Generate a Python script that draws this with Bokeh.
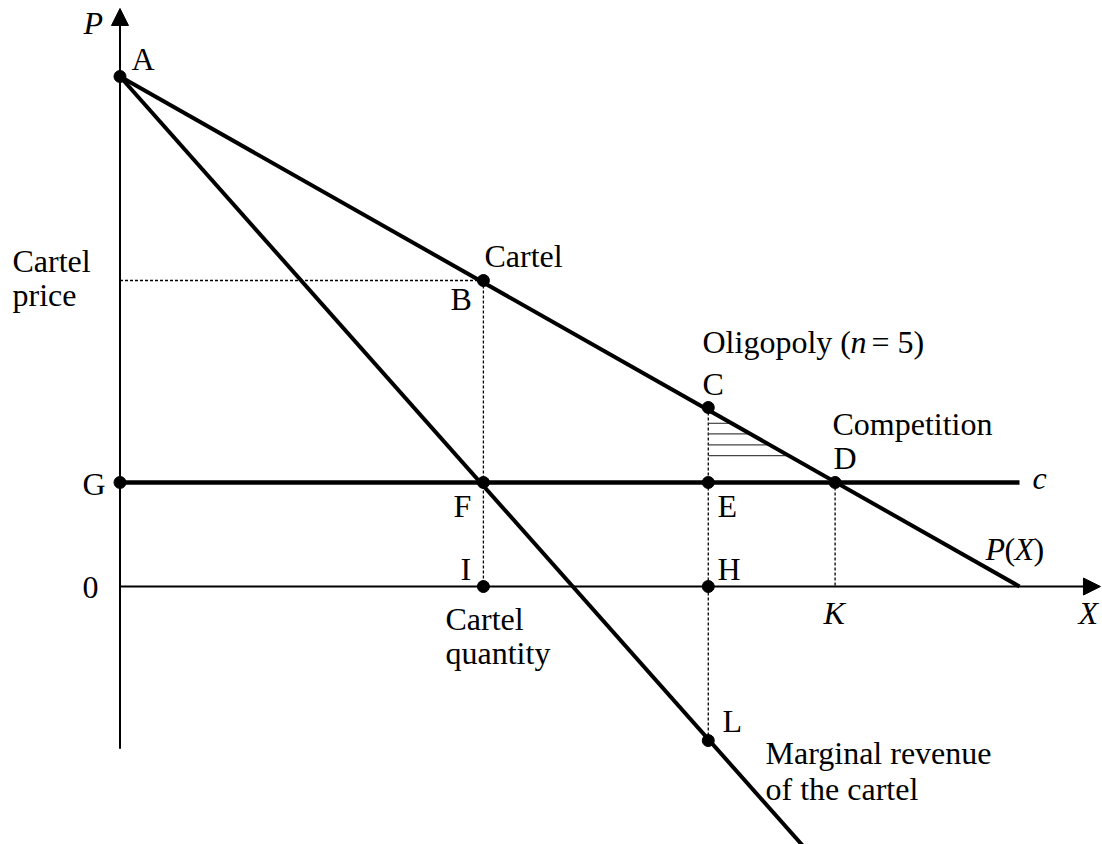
from bokeh.plotting import figure
from bokeh.models import Range1d, Arrow, NormalHead, ColumnDataSource
from bokeh.core.properties import value
from bokeh.embed import file_html
from bokeh.resources import INLINE

# ---------------- data ----------------
# inverse demand P(X)
demand_x = [0.0, 10.0]
demand_p = [5.0, 0.0]
# marginal revenue of the cartel
mr_x = [0.0, 7.6]
mr_p = [5.0, -2.55]
# marginal cost c
cost_x = [0.0, 10.0]
cost_p = [1.02, 1.02]

point_names = ["A", "B", "C", "D", "G", "F", "E", "I", "H", "L"]
point_x = [0.0, 4.04, 6.54, 7.95, 0.0, 4.04, 6.54, 4.04, 6.54, 6.54]
point_p = [5.0, 3.0, 1.755, 1.02, 1.02, 1.02, 1.02, 0.0, 0.0, -1.51]

# dotted guide lines
guide_x0 = [0.0, 4.04, 6.54, 7.95]
guide_p0 = [3.0, 3.0, 1.755, 1.02]
guide_x1 = [4.04, 4.04, 6.54, 7.95]
guide_p1 = [3.0, 0.0, -1.51, 0.0]

# hatching of the oligopoly triangle
hatch_p = [1.60, 1.497, 1.389, 1.284]
hatch_x0 = [6.54, 6.54, 6.54, 6.54]
hatch_x1 = [6.81, 7.01, 7.20, 7.43]

# axes extent
axis_x_max = 10.9
axis_p_min = -1.59
axis_p_max = 5.667

# ---------------- layout ----------------
W, H = 1102, 844
X0, X1 = -1.3285, 10.9227
Y0, Y1 = -2.529, 5.745
SX = W / (X1 - X0)
SY = H / (Y1 - Y0)
BASE_FIX = 10  # renderer places alphabetic baseline lower; compensate


def ref(px, py):
    """screen pixel -> data coordinate"""
    return X0 + px / SX, Y1 - (py - BASE_FIX) / SY


labels = [
    ("P", 83, 32, True),
    ("A", 131, 68, False),
    ("Cartel", 12, 270, False),
    ("price", 12, 304, False),
    ("Cartel", 484, 265, False),
    ("B", 450, 308, False),
    ("Oligopoly (", 702, 351, False),
    ("n", 850, 351, True),
    ("= 5)", 871, 351, False),
    ("C", 702, 393, False),
    ("Competition", 832, 433, False),
    ("D", 833, 467, False),
    ("c", 1032, 487, True),
    ("G", 82, 493, False),
    ("0", 82, 597, False),
    ("F", 453, 515, False),
    ("E", 717, 515, False),
    ("I", 460, 578, False),
    ("H", 717, 578, False),
    ("P", 985, 558, True),
    ("(", 1004, 558, False),
    ("X", 1014, 558, True),
    (")", 1033, 558, False),
    ("K", 823, 622, True),
    ("X", 1078, 622, True),
    ("Cartel", 445, 628, False),
    ("quantity", 445, 662, False),
    ("L", 722, 730, False),
    ("Marginal revenue", 765, 762, False),
    ("of the cartel", 765, 798, False),
]

p = figure(width=W, height=H, x_range=Range1d(X0, X1), y_range=Range1d(Y0, Y1),
           output_backend="svg", toolbar_location=None, min_border=0,
           x_axis_location=None, y_axis_location=None)
p.grid.visible = False
p.outline_line_color = None
p.background_fill_color = "white"
p.border_fill_color = "white"

# dotted guides
p.segment(x0=guide_x0, y0=guide_p0, x1=guide_x1, y1=guide_p1,
          line_color="black", line_width=1.3, line_dash="3 2")
# hatching
p.segment(x0=hatch_x0, y0=hatch_p, x1=hatch_x1, y1=hatch_p,
          line_color="#444444", line_width=1.2)

# axes with arrowheads
p.add_layout(Arrow(end=NormalHead(size=17, fill_color="black", line_color="black"),
                   x_start=0, y_start=axis_p_min, x_end=0, y_end=axis_p_max,
                   line_width=2, line_color="black"))
p.add_layout(Arrow(end=NormalHead(size=17, fill_color="black", line_color="black"),
                   x_start=0, y_start=0, x_end=axis_x_max, y_end=0,
                   line_width=2, line_color="black"))

# curves
p.line(cost_x, cost_p, line_color="black", line_width=4.5)
p.line(demand_x, demand_p, line_color="black", line_width=4)
p.line(mr_x, mr_p, line_color="black", line_width=4)

# points
p.scatter(point_x, point_p, size=12, color="black")

# labels
reg = dict(x=[], y=[], text=[])
ita = dict(x=[], y=[], text=[])
for t, px, py, it in labels:
    dx, dy = ref(px, py)
    d = ita if it else reg
    d["x"].append(dx)
    d["y"].append(dy)
    d["text"].append(t)

common = dict(text_font=value("Liberation Serif"), text_font_size=value("32px"),
              text_color="black", text_align="left", text_baseline="alphabetic")
p.text(x="x", y="y", text="text", source=ColumnDataSource(reg), **common)
p.text(x="x", y="y", text="text", source=ColumnDataSource(ita),
       text_font_style="italic", **common)

open("out.html", "w").write(file_html(p, INLINE))
